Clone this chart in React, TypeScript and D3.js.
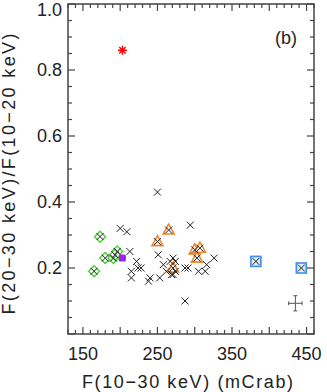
import React, { useRef, useEffect } from 'react';
import * as d3 from 'd3';

// flux (mCrab) and hardness ratio for the full sample (black crosses)
const crossFlux = [250, 200, 209, 294, 213, 222, 224, 228, 215, 215, 238, 240, 253, 251, 258, 267, 271, 274, 262, 269, 274, 271, 287, 291, 305, 314, 316, 326, 287];
const crossRatio = [0.43, 0.32, 0.31, 0.33, 0.25, 0.22, 0.20, 0.20, 0.19, 0.17, 0.16, 0.17, 0.17, 0.24, 0.21, 0.22, 0.23, 0.22, 0.19, 0.18, 0.19, 0.18, 0.20, 0.20, 0.19, 0.19, 0.21, 0.23, 0.10];

const greenFlux = [173, 180, 191, 196, 193, 165];
const greenRatio = [0.295, 0.23, 0.23, 0.25, 0.24, 0.19];

const orangeFlux = [265, 250, 271, 300, 307, 303];
const orangeRatio = [0.315, 0.28, 0.20, 0.255, 0.26, 0.23];

const blueFlux = [382, 443];
const blueRatio = [0.22, 0.20];

const purpleFlux = [203];
const purpleRatio = [0.23];

const redFlux = [203];
const redRatio = [0.86];

// typical error bar
const errFlux = 435;
const errRatio = 0.093;
const errDx = 9;
const errDy = 0.023;

const xLabels = [150, 250, 350, 450];
const yLabels = [0.2, 0.4, 0.6, 0.8, 1.0];

const W = 327;
const H = 392;
const margin = { top: 4, right: 13, bottom: 58, left: 68 };

const App: React.FC = () => {
  const svgRef = useRef<SVGSVGElement | null>(null);

  useEffect(() => {
    const svg = d3.select(svgRef.current);
    svg.selectAll('*').remove();

    const x = d3.scaleLinear().domain([130, 460]).range([margin.left, W - margin.right]);
    const y = d3.scaleLinear().domain([0, 1]).range([H - margin.bottom, margin.top]);
    const x0 = margin.left, x1 = W - margin.right, y0 = H - margin.bottom, y1 = margin.top;
    const axisColor = '#444';
    const font = "'Liberation Sans', Arial, sans-serif";

    // ticks on all four sides, pointing in
    const g = svg.append('g').attr('stroke', axisColor).attr('stroke-width', 1.2);
    d3.range(130, 461, 10).forEach((v) => {
      const len = v % 50 === 0 ? 7 : 4;
      g.append('line').attr('x1', x(v)).attr('x2', x(v)).attr('y1', y0).attr('y2', y0 - len);
      g.append('line').attr('x1', x(v)).attr('x2', x(v)).attr('y1', y1).attr('y2', y1 + len);
    });
    d3.range(0, 21).forEach((i) => {
      const v = i * 0.05;
      const len = i % 4 === 0 ? 7 : 4;
      g.append('line').attr('x1', x0).attr('x2', x0 + len).attr('y1', y(v)).attr('y2', y(v));
      g.append('line').attr('x1', x1).attr('x2', x1 - len).attr('y1', y(v)).attr('y2', y(v));
    });
    svg.append('rect')
      .attr('x', x0).attr('y', y1).attr('width', x1 - x0).attr('height', y0 - y1)
      .attr('fill', 'none').attr('stroke', axisColor).attr('stroke-width', 1.5);

    // tick labels
    svg.selectAll('.xl').data(xLabels).enter().append('text')
      .attr('x', (d) => x(d)).attr('y', 360)
      .attr('text-anchor', 'middle').attr('font-family', font).attr('font-size', 18).attr('fill', '#222')
      .text((d) => String(d));
    svg.selectAll('.yl').data(yLabels).enter().append('text')
      .attr('x', 62).attr('y', (d) => Math.max(y(d), 10))
      .attr('dy', '0.35em')
      .attr('text-anchor', 'end').attr('font-family', font).attr('font-size', 18).attr('fill', '#222')
      .text((d) => d.toFixed(1));

    // axis titles
    svg.append('text')
      .attr('x', 187.5).attr('y', 388)
      .attr('text-anchor', 'middle').attr('font-family', font).attr('font-size', 18).attr('fill', '#222')
      .attr('textLength', 211).attr('lengthAdjust', 'spacing')
      .text('F(10\u221230 keV) (mCrab)');
    svg.append('text')
      .attr('transform', 'translate(15,174) rotate(-90)')
      .attr('text-anchor', 'middle').attr('font-family', font).attr('font-size', 18).attr('fill', '#222')
      .attr('textLength', 281).attr('lengthAdjust', 'spacing')
      .text('F(20\u221230 keV)/F(10\u221220 keV)');
    svg.append('text')
      .attr('x', 286).attr('y', 44)
      .attr('text-anchor', 'middle').attr('font-family', font).attr('font-size', 18).attr('fill', '#222')
      .text('(b)');

    const pts = (fx: number[], fr: number[]) => fx.map((f, i) => [x(f), y(fr[i])] as [number, number]);

    // coloured symbols underneath
    const green = svg.append('g');
    pts(greenFlux, greenRatio).forEach(([cx, cy]) => {
      green.append('path')
        .attr('d', `M${cx},${cy - 5.5}L${cx + 5.5},${cy}L${cx},${cy + 5.5}L${cx - 5.5},${cy}Z`)
        .attr('fill', 'white').attr('stroke', '#4cd137').attr('stroke-width', 1.4);
    });
    pts(orangeFlux, orangeRatio).forEach(([cx, cy]) => {
      svg.append('path')
        .attr('d', `M${cx},${cy - 6}L${cx + 5.5},${cy + 4}L${cx - 5.5},${cy + 4}Z`)
        .attr('fill', 'white').attr('stroke', '#f0862e').attr('stroke-width', 1.6);
    });
    pts(blueFlux, blueRatio).forEach(([cx, cy]) => {
      svg.append('rect')
        .attr('x', cx - 5).attr('y', cy - 5).attr('width', 10).attr('height', 10)
        .attr('fill', '#dbe9fb').attr('stroke', '#3d8ee8').attr('stroke-width', 1.6);
    });

    // crosses for every source
    const allX = pts(
      [...crossFlux, ...greenFlux, ...orangeFlux, ...blueFlux],
      [...crossRatio, ...greenRatio, ...orangeRatio, ...blueRatio]
    );
    const s = 3.5;
    svg.append('g').selectAll('path').data(allX).enter().append('path')
      .attr('d', ([cx, cy]) => `M${cx - s},${cy - s}L${cx + s},${cy + s}M${cx - s},${cy + s}L${cx + s},${cy - s}`)
      .attr('stroke', '#222').attr('stroke-width', 1).attr('fill', 'none');

    pts(purpleFlux, purpleRatio).forEach(([cx, cy]) => {
      svg.append('rect')
        .attr('x', cx - 3.5).attr('y', cy - 3.5).attr('width', 7).attr('height', 7).attr('rx', 1.5)
        .attr('fill', '#a020f0');
    });

    // red asterisk
    pts(redFlux, redRatio).forEach(([cx, cy]) => {
      const r = 4.5;
      const d = d3.range(4).map((k) => {
        const a = (k * Math.PI) / 4;
        return `M${cx - r * Math.cos(a)},${cy - r * Math.sin(a)}L${cx + r * Math.cos(a)},${cy + r * Math.sin(a)}`;
      }).join('');
      svg.append('path').attr('d', d).attr('stroke', '#ff0000').attr('stroke-width', 1.4);
    });

    // representative error bar
    const ex = x(errFlux), ey = y(errRatio);
    const exl = x(errFlux - errDx), exr = x(errFlux + errDx);
    const eyt = y(errRatio + errDy), eyb = y(errRatio - errDy);
    svg.append('path')
      .attr('d', `M${exl},${ey}H${exr}M${ex},${eyt}V${eyb}M${exl},${ey - 2}V${ey + 2}M${exr},${ey - 2}V${ey + 2}M${ex - 2},${eyt}H${ex + 2}M${ex - 2},${eyb}H${ex + 2}`)
      .attr('stroke', '#555').attr('stroke-width', 1).attr('fill', 'none');
  }, []);

  return (
    <svg ref={svgRef} width={W} height={H} style={{ position: 'absolute', left: 0, top: 0, background: 'white' }}></svg>
  );
};

export default App;
